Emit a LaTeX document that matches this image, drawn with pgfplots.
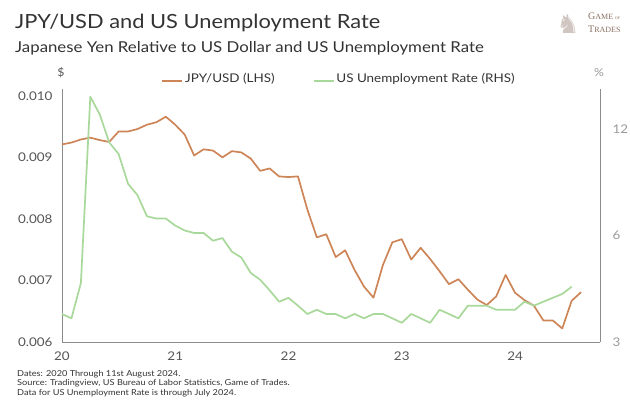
\documentclass[border=0pt]{standalone}
\usepackage{fontspec}
\setmainfont{Lato}[FakeStretch=1.12]
\newfontfamily\symfont{DejaVu Sans}
\newfontfamily\logofont{Liberation Serif}
\usepackage{pgfplots}
\pgfplotsset{compat=1.18}
\definecolor{jpy}{HTML}{CD8558}
\definecolor{unemp}{HTML}{A8D89A}
\definecolor{axgray}{HTML}{8C8C8C}
\definecolor{txt}{HTML}{333333}
\definecolor{ticktxt}{HTML}{555555}
\definecolor{rtick}{HTML}{9A9A9A}
\definecolor{logo}{HTML}{8A6E62}
\begin{document}
\begin{tikzpicture}
% titles
\node[anchor=base west, inner sep=0, font=\fontsize{19.5}{22}\selectfont, text=txt] at (15pt,-28pt) {JPY/USD and US Unemployment Rate};
\node[anchor=base west, inner sep=0, font=\fontsize{15}{17}\selectfont, text=txt] at (15pt,-52pt) {Japanese Yen Relative to US Dollar and US Unemployment Rate};
% logo
\node[anchor=center, inner sep=0, font=\symfont\fontsize{26}{26}\selectfont, text=logo!40] at (568pt,-24pt) {♞};
\node[anchor=base west, inner sep=0, font=\logofont, text=logo] at (588pt,-19pt) {{\fontsize{10}{10}\selectfont G}{\fontsize{8}{8}\selectfont AME}\,{\fontsize{4}{4}\selectfont OF}};
\node[anchor=base west, inner sep=0, font=\logofont, text=logo] at (588pt,-32.5pt) {{\fontsize{10}{10}\selectfont T}{\fontsize{8}{8}\selectfont RADES}};
% unit labels
\node[anchor=center, inner sep=0, font=\fontsize{11}{13}\selectfont, text=ticktxt] at (61pt,-73pt) {\$};
\node[anchor=center, inner sep=0, font=\fontsize{11}{13}\selectfont, text=rtick] at (599pt,-73pt) {\%};
% footnotes
\node[anchor=base west, inner sep=0, font=\fontsize{8.2}{9}\selectfont, text=txt] at (17pt,-376pt) {Dates: 2020 Through 11st August 2024.};
\node[anchor=base west, inner sep=0, font=\fontsize{8.2}{9}\selectfont, text=txt] at (17pt,-385.5pt) {Source: Tradingview, US Bureau of Labor Statistics, Game of Trades.};
\node[anchor=base west, inner sep=0, font=\fontsize{8.2}{9}\selectfont, text=txt] at (17pt,-395pt) {Data for US Unemployment Rate is through July 2024.};

\begin{axis}[
  at={(62pt,-342pt)}, anchor=south west,
  scale only axis, width=538pt, height=253pt,
  xmin=0, xmax=57, ymin=0.006, ymax=0.01011,
  axis x line*=bottom, axis y line*=left,
  axis line style={axgray, line width=0.9pt, -},
  xtick={0,12,24,36,48}, xticklabels={20,21,22,23,24},
  ytick={0.006,0.007,0.008,0.009,0.010},
  yticklabels={0.006,0.007,0.008,0.009,0.010},
  scaled y ticks=false,
  major tick length=0pt,
  /pgf/number format/assume math mode=true,
  ticklabel style={font=\fontsize{12}{14}\selectfont, text=ticktxt},
  yticklabel style={xshift=-6pt},
  xticklabel style={yshift=-6pt},
  legend style={at={(axis description cs:0.515,1)}, anchor=south, yshift=3pt,
    draw=none, fill=none, inner sep=0pt, legend columns=2,
    font=\fontsize{12}{14}\selectfont, text=txt,
    /tikz/every even column/.append style={column sep=36pt}},
  legend image code/.code={\draw[#1] (0pt,-2.5pt) -- (20pt,-2.5pt);},
  clip=false,
]
\addplot[jpy, line width=1.7pt, line join=round] coordinates {
(0,0.00921)(1,0.00924)(2,0.00929)(3,0.00932)(4,0.00928)(5,0.00925)
(6,0.00942)(7,0.00942)(8,0.00946)(9,0.00953)(10,0.00957)(11,0.00966)
(12,0.00953)(13,0.00937)(14,0.00903)(15,0.00913)(16,0.00911)(17,0.00900)
(18,0.00910)(19,0.00908)(20,0.00898)(21,0.00878)(22,0.00882)(23,0.00869)
(24,0.00868)(25,0.00869)(26,0.00815)(27,0.00770)(28,0.00775)(29,0.00738)
(30,0.00749)(31,0.00717)(32,0.00690)(33,0.00672)(34,0.00725)(35,0.00762)
(36,0.00767)(37,0.00734)(38,0.00753)(39,0.00735)(40,0.00715)(41,0.00694)
(42,0.00702)(43,0.00685)(44,0.00669)(45,0.00660)(46,0.00674)(47,0.00709)
(48,0.00680)(49,0.00668)(50,0.00659)(51,0.00635)(52,0.00635)(53,0.00622)
(54,0.00667)(55,0.00681)
};
\addlegendentry{JPY/USD (LHS)}
\addlegendimage{unemp, line width=1.7pt}
\addlegendentry{US Unemployment Rate (RHS)}
\end{axis}

\begin{axis}[
  at={(62pt,-342pt)}, anchor=south west,
  scale only axis, width=538pt, height=253pt,
  xmin=0, xmax=57, ymode=log, ymin=3, ymax=15.57,
  axis x line=none, axis y line*=right,
  axis line style={axgray, line width=0.9pt, -},
  ytick={3,6,12}, yticklabels={3,6,12},
  log basis y=2,
  major tick length=0pt, minor tick num=0,
  /pgf/number format/assume math mode=true,
  ticklabel style={font=\fontsize{12}{14}\selectfont, text=rtick},
  yticklabel style={anchor=west, xshift=9pt},
  clip=false,
]
\addplot[unemp, line width=1.7pt, line join=round] coordinates {
(0,3.6)(1,3.5)(2,4.4)(3,14.8)(4,13.2)(5,11.0)(6,10.2)(7,8.4)(8,7.8)(9,6.8)
(10,6.7)(11,6.7)(12,6.4)(13,6.2)(14,6.1)(15,6.1)(16,5.8)(17,5.9)(18,5.4)(19,5.2)
(20,4.7)(21,4.5)(22,4.2)(23,3.9)(24,4.0)(25,3.8)(26,3.6)(27,3.7)(28,3.6)(29,3.6)
(30,3.5)(31,3.6)(32,3.5)(33,3.6)(34,3.6)(35,3.5)(36,3.4)(37,3.6)(38,3.5)(39,3.4)
(40,3.7)(41,3.6)(42,3.5)(43,3.8)(44,3.8)(45,3.8)(46,3.7)(47,3.7)(48,3.7)(49,3.9)
(50,3.8)(51,3.9)(52,4.0)(53,4.1)(54,4.3)
};
\end{axis}
\pgfresetboundingbox
\path[use as bounding box] (0,0) rectangle (630pt,-400pt);
\end{tikzpicture}
\end{document}
